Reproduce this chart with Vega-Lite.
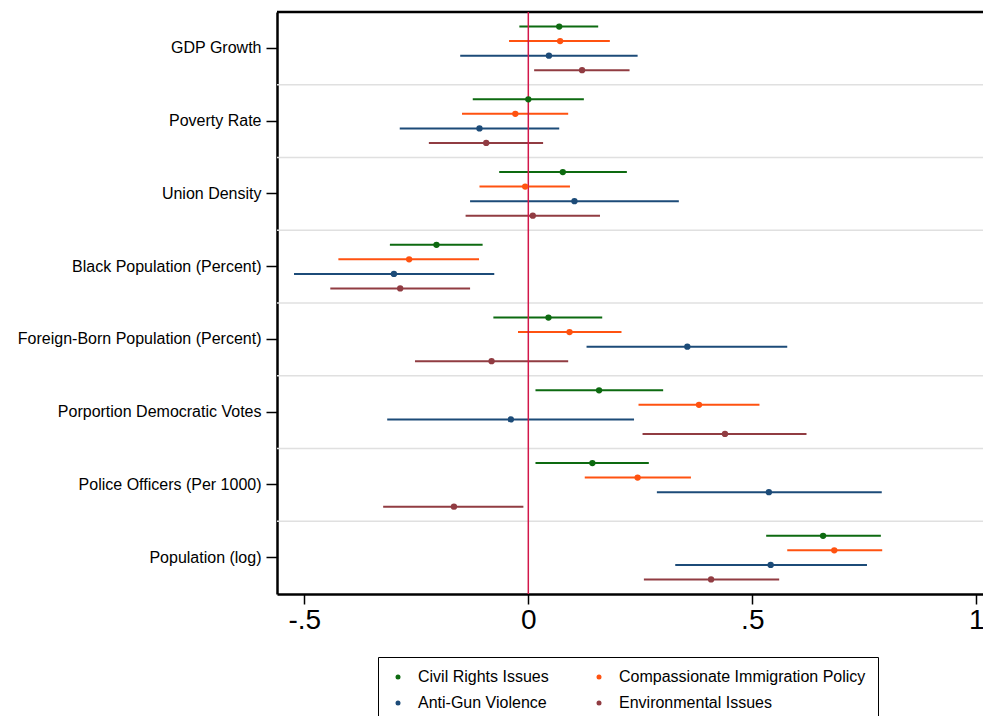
{
  "$schema": "https://vega.github.io/schema/vega-lite/v6.json",
  "width": 706,
  "height": 582,
  "autosize": {"type": "none"},
  "padding": {"left": 277, "top": 12, "right": 0, "bottom": 122},
  "background": "white",
  "config": {
    "view": {"stroke": null},
    "font": "Liberation Sans",
    "axisY": {
      "domainColor": "black", "domainWidth": 2.5,
      "tickColor": "black", "tickWidth": 1.5, "tickSize": 11,
      "labelFont": "Liberation Sans", "labelFontSize": 16, "labelColor": "black", "labelPadding": 5,
      "labelLimit": 400, "grid": false
    },
    "axisX": {
      "domainColor": "black", "domainWidth": 2.5,
      "tickColor": "black", "tickWidth": 1.5, "tickSize": 10,
      "labelFont": "Liberation Sans", "labelFontSize": 28, "labelColor": "black", "labelPadding": 2,
      "labelFlush": false, "labelOverlap": false, "grid": false
    },
    "legend": {
      "orient": "none", "legendX": 101, "legendY": 645, "columns": 2, "direction": "horizontal",
      "columnPadding": 42, "rowPadding": 10, "padding": 12,
      "strokeColor": "black", "strokeWidth": 1, "fillColor": "white",
      "symbolType": "circle", "symbolSize": 25, "symbolStrokeWidth": 0, "labelOffset": 12,
      "labelFont": "Liberation Sans", "labelFontSize": 16, "labelColor": "black", "labelLimit": 400
    }
  },
  "datasets": {
    "est": [
      {"var": "GDP Growth\u00a0", "series": "Civil Rights Issues", "b": 0.069, "lo": -0.020, "hi": 0.156},
      {"var": "GDP Growth\u00a0", "series": "Compassionate Immigration Policy", "b": 0.071, "lo": -0.043, "hi": 0.182},
      {"var": "GDP Growth\u00a0", "series": "Anti-Gun Violence", "b": 0.046, "lo": -0.152, "hi": 0.244},
      {"var": "GDP Growth\u00a0", "series": "Environmental Issues", "b": 0.120, "lo": 0.013, "hi": 0.226},
      {"var": "Poverty Rate\u00a0", "series": "Civil Rights Issues", "b": 0.000, "lo": -0.124, "hi": 0.124},
      {"var": "Poverty Rate\u00a0", "series": "Compassionate Immigration Policy", "b": -0.029, "lo": -0.148, "hi": 0.089},
      {"var": "Poverty Rate\u00a0", "series": "Anti-Gun Violence", "b": -0.109, "lo": -0.287, "hi": 0.069},
      {"var": "Poverty Rate\u00a0", "series": "Environmental Issues", "b": -0.094, "lo": -0.222, "hi": 0.033},
      {"var": "Union Density\u00a0", "series": "Civil Rights Issues", "b": 0.077, "lo": -0.065, "hi": 0.220},
      {"var": "Union Density\u00a0", "series": "Compassionate Immigration Policy", "b": -0.007, "lo": -0.109, "hi": 0.093},
      {"var": "Union Density\u00a0", "series": "Anti-Gun Violence", "b": 0.103, "lo": -0.130, "hi": 0.336},
      {"var": "Union Density\u00a0", "series": "Environmental Issues", "b": 0.010, "lo": -0.140, "hi": 0.160},
      {"var": "Black Population (Percent)", "series": "Civil Rights Issues", "b": -0.205, "lo": -0.309, "hi": -0.102},
      {"var": "Black Population (Percent)", "series": "Compassionate Immigration Policy", "b": -0.266, "lo": -0.424, "hi": -0.110},
      {"var": "Black Population (Percent)", "series": "Anti-Gun Violence", "b": -0.300, "lo": -0.523, "hi": -0.076},
      {"var": "Black Population (Percent)", "series": "Environmental Issues", "b": -0.286, "lo": -0.442, "hi": -0.130},
      {"var": "Foreign-Born Population (Percent)\u00a0", "series": "Civil Rights Issues", "b": 0.045, "lo": -0.078, "hi": 0.165},
      {"var": "Foreign-Born Population (Percent)\u00a0", "series": "Compassionate Immigration Policy", "b": 0.092, "lo": -0.023, "hi": 0.208},
      {"var": "Foreign-Born Population (Percent)\u00a0", "series": "Anti-Gun Violence", "b": 0.355, "lo": 0.130, "hi": 0.578},
      {"var": "Foreign-Born Population (Percent)\u00a0", "series": "Environmental Issues", "b": -0.082, "lo": -0.253, "hi": 0.089},
      {"var": "Porportion Democratic Votes", "series": "Civil Rights Issues", "b": 0.158, "lo": 0.016, "hi": 0.301},
      {"var": "Porportion Democratic Votes", "series": "Compassionate Immigration Policy", "b": 0.381, "lo": 0.246, "hi": 0.516},
      {"var": "Porportion Democratic Votes", "series": "Anti-Gun Violence", "b": -0.039, "lo": -0.315, "hi": 0.236},
      {"var": "Porportion Democratic Votes", "series": "Environmental Issues", "b": 0.439, "lo": 0.255, "hi": 0.621},
      {"var": "Police Officers (Per 1000)", "series": "Civil Rights Issues", "b": 0.143, "lo": 0.016, "hi": 0.269},
      {"var": "Police Officers (Per 1000)", "series": "Compassionate Immigration Policy", "b": 0.244, "lo": 0.126, "hi": 0.363},
      {"var": "Police Officers (Per 1000)", "series": "Anti-Gun Violence", "b": 0.537, "lo": 0.287, "hi": 0.789},
      {"var": "Police Officers (Per 1000)", "series": "Environmental Issues", "b": -0.166, "lo": -0.324, "hi": -0.011},
      {"var": "Population (log)", "series": "Civil Rights Issues", "b": 0.658, "lo": 0.531, "hi": 0.787},
      {"var": "Population (log)", "series": "Compassionate Immigration Policy", "b": 0.683, "lo": 0.578, "hi": 0.790},
      {"var": "Population (log)", "series": "Anti-Gun Violence", "b": 0.541, "lo": 0.328, "hi": 0.756},
      {"var": "Population (log)", "series": "Environmental Issues", "b": 0.408, "lo": 0.258, "hi": 0.560}
    ],
    "gridvars": [
      {"var": "Poverty Rate\u00a0"},
      {"var": "Union Density\u00a0"},
      {"var": "Black Population (Percent)"},
      {"var": "Foreign-Born Population (Percent)\u00a0"},
      {"var": "Porportion Democratic Votes"},
      {"var": "Police Officers (Per 1000)"},
      {"var": "Population (log)"}
    ],
    "topvar": [{"var": "GDP Growth\u00a0"}],
    "zero": [{"z": 0}]
  },
  "layer": [
    {
      "data": {"name": "gridvars"},
      "mark": {"type": "rule", "color": "#e0e0e0", "strokeWidth": 1.6},
      "encoding": {
        "y": {"field": "var", "type": "nominal", "bandPosition": 0, "title": null,
              "scale": {"domain": ["GDP Growth\u00a0", "Poverty Rate\u00a0", "Union Density\u00a0", "Black Population (Percent)", "Foreign-Born Population (Percent)\u00a0", "Porportion Democratic Votes", "Police Officers (Per 1000)", "Population (log)"], "paddingInner": 0, "paddingOuter": 0}}
      }
    },
    {
      "data": {"name": "topvar"},
      "mark": {"type": "rule", "color": "black", "strokeWidth": 2.5},
      "encoding": {
        "y": {"field": "var", "type": "nominal", "bandPosition": 0, "title": null}
      }
    },
    {
      "data": {"name": "est"},
      "mark": {"type": "rule", "strokeWidth": 2},
      "encoding": {
        "y": {"field": "var", "type": "nominal", "title": null},
        "yOffset": {"field": "series", "type": "nominal",
                    "scale": {"domain": ["Civil Rights Issues", "Compassionate Immigration Policy", "Anti-Gun Violence", "Environmental Issues"], "paddingOuter": 0.5, "paddingInner": 0}},
        "x": {"field": "lo", "type": "quantitative", "title": null,
              "scale": {"domain": [-0.561, 1.015], "nice": false, "zero": false},
              "axis": {"values": [-0.5, 0, 0.5, 1], "labelExpr": "datum.value < 0 ? '-.5' : datum.value == 0 ? '0' : datum.value == 0.5 ? '.5' : '1'"}},
        "x2": {"field": "hi"},
        "stroke": {"field": "series", "type": "nominal",
                  "scale": {"domain": ["Civil Rights Issues", "Compassionate Immigration Policy", "Anti-Gun Violence", "Environmental Issues"], "range": ["#0d6a10", "#ff5210", "#1c4b78", "#913c42"]}}
      }
    },
    {
      "data": {"name": "zero"},
      "mark": {"type": "rule", "color": "#d2174a", "strokeWidth": 1.5},
      "encoding": {
        "x": {"field": "z", "type": "quantitative", "title": null}
      }
    },
    {
      "data": {"name": "est"},
      "mark": {"type": "point", "filled": true, "size": 40, "opacity": 1},
      "encoding": {
        "y": {"field": "var", "type": "nominal", "title": null},
        "yOffset": {"field": "series", "type": "nominal"},
        "x": {"field": "b", "type": "quantitative", "title": null},
        "color": {"field": "series", "type": "nominal",
                  "scale": {"domain": ["Civil Rights Issues", "Compassionate Immigration Policy", "Anti-Gun Violence", "Environmental Issues"], "range": ["#0d6a10", "#ff5210", "#1c4b78", "#913c42"]},
                  "legend": {"title": null}}
      }
    }
  ]
}
